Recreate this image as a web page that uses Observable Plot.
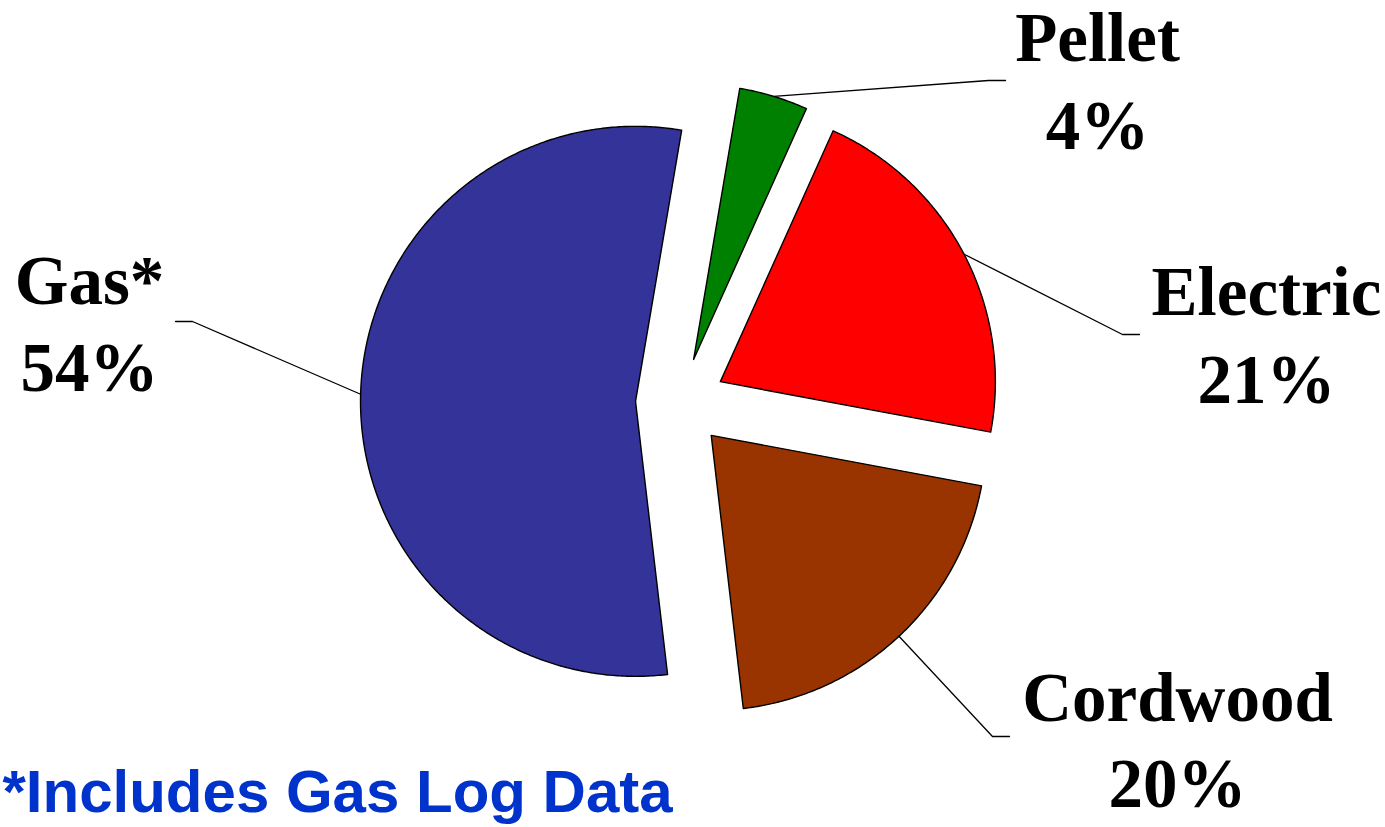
<!DOCTYPE html>
<html><head><meta charset="utf-8">
<script src="https://cdn.jsdelivr.net/npm/d3@7"></script>
<script src="https://cdn.jsdelivr.net/npm/@observablehq/plot@0.6"></script>
<style>html,body{margin:0;padding:0;background:#fff;overflow:hidden}</style>
</head><body><div id="chart"></div>
<script>
// ---- data ----
const categories = ["Gas*", "Pellet", "Electric", "Cordwood"];
const shares = [54, 4, 21, 20];
const sliceColors = ["#333399", "#008000", "#FF0000", "#993300"];
const footnote = "*Includes Gas Log Data";

// ---- layout (pixels / radius units) ----
const W = 1385, H = 827;
const R = 275, cx = 680, cy = 402;
const startDeg = 173.3;
const explode = 0.1636;
const tick = 0.0618;
// leader elbows and label anchors, in radius units relative to pie centre
const elbowX = [-1.7745, 1.12, 1.6072, 1.1345];
const elbowY = [-0.2945, -1.1709, -0.2473, 1.2145];
const elbowDir = [-1, 1, 1, 1];
const labelX = [-2.149, 1.5164, 2.1309, 1.8073];
const nameY = [-0.36, -1.2436, -0.32, 1.1564];
const pctY = [-0.0436, -0.9236, 0.0036, 1.4727];

const rows = categories.map((name, i) => ({name, share: shares[i], i}));
const a0 = startDeg * Math.PI / 180;
const pie = d3.pie().sort(null).value(d => d.share).startAngle(a0).endAngle(a0 + 2 * Math.PI);
const arcs = pie(rows);

const slicePts = [];
const leaderPts = [];
for (const a of arcs) {
  const {name, i} = a.data;
  const mid = (a.startAngle + a.endAngle) / 2;
  const ox = explode * Math.sin(mid), oy = -explode * Math.cos(mid);
  slicePts.push({name, x: ox, y: oy});
  const n = Math.ceil((a.endAngle - a.startAngle) / (Math.PI / 360));
  for (let k = 0; k <= n; k++) {
    const t = a.startAngle + (a.endAngle - a.startAngle) * k / n;
    slicePts.push({name, x: ox + Math.sin(t), y: oy - Math.cos(t)});
  }
  leaderPts.push({name, x: ox + Math.sin(mid), y: oy - Math.cos(mid)});
  leaderPts.push({name, x: elbowX[i], y: elbowY[i]});
  leaderPts.push({name, x: elbowX[i] + elbowDir[i] * tick, y: elbowY[i]});
}

const labels = rows.map(r => ({name: r.name, pct: `${r.share}%`, x: labelX[r.i], yn: nameY[r.i], yp: pctY[r.i]}));

const serif = {fontFamily: "'Liberation Serif', 'Times New Roman', serif", fontWeight: "bold", fontSize: 69, fill: "#000", textAnchor: "middle", lineAnchor: "bottom"};

const chart = Plot.plot({
  width: W, height: H,
  margin: 0,
  x: {domain: [-cx / R, (W - cx) / R], range: [0, W], axis: null},
  y: {domain: [-cy / R, (H - cy) / R], range: [0, H], axis: null},
  color: {domain: categories, range: sliceColors},
  style: {background: "#fff", overflow: "hidden"},
  marks: [
    Plot.line(slicePts, {x: "x", y: "y", z: "name", fill: "name", stroke: "#000", strokeWidth: 1.4, curve: "linear-closed"}),
    Plot.line(leaderPts, {x: "x", y: "y", z: "name", stroke: "#000", strokeWidth: 1.3}),
    Plot.text(labels, {x: "x", y: "yn", text: "name", ...serif}),
    Plot.text(labels, {x: "x", y: "yp", text: "pct", ...serif}),
    Plot.text([footnote], {text: d => d, frameAnchor: "bottom-left", textAnchor: "start", lineAnchor: "bottom", dx: 2, dy: -16,
      fontFamily: "'Liberation Sans', Arial, sans-serif", fontWeight: "bold", fontSize: 60, fill: "#0033CC"})
  ]
});
document.getElementById("chart").appendChild(chart);
</script>
</body></html>
